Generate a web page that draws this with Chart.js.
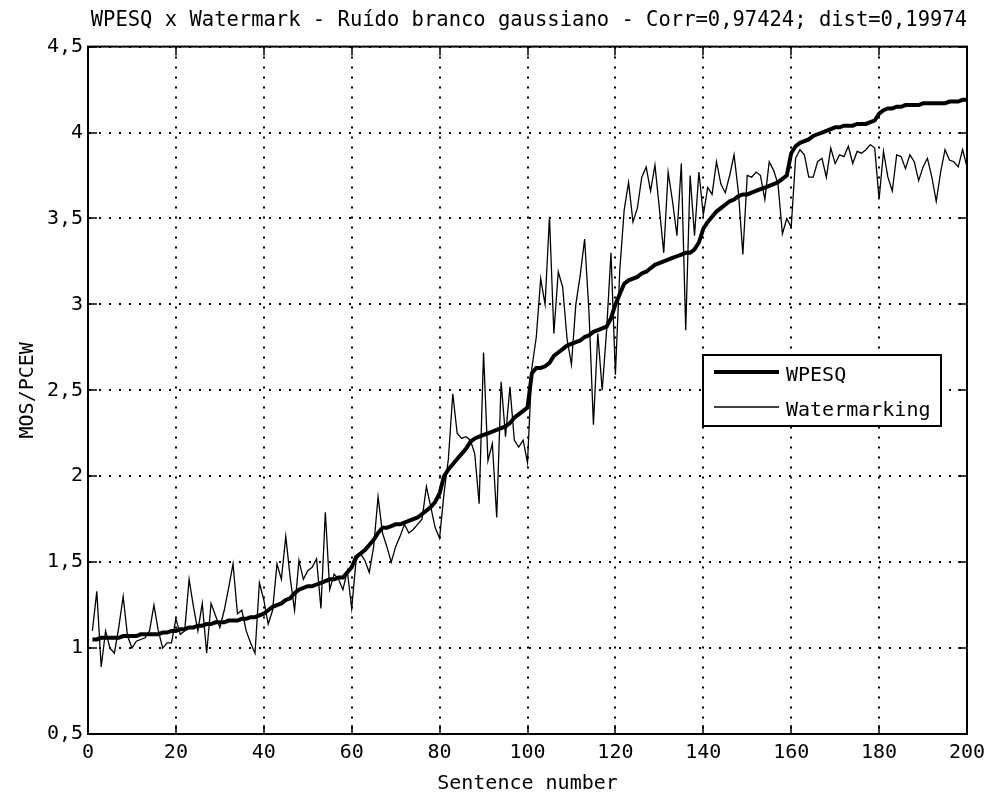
<!DOCTYPE html>
<html>
<head>
<meta charset="utf-8">
<script src="https://cdn.jsdelivr.net/npm/chart.js@4"></script>
<style>
  html, body { margin: 0; padding: 0; background: #fff; }
  #wrap { width: 984px; height: 796px; }
</style>
</head>
<body>
<div id="wrap"><canvas id="mosChart" width="984" height="796"></canvas></div>
<script>
// WPESQ score per sentence (sorted, sentences 1..200)
const wpesq = [
  1.05, 1.05, 1.06, 1.06, 1.06, 1.06, 1.06, 1.07, 1.07, 1.07,
  1.07, 1.08, 1.08, 1.08, 1.08, 1.08, 1.09, 1.09, 1.10, 1.10,
  1.11, 1.11, 1.12, 1.12, 1.13, 1.13, 1.14, 1.14, 1.15, 1.15,
  1.15, 1.16, 1.16, 1.16, 1.17, 1.17, 1.18, 1.18, 1.19, 1.20,
  1.22, 1.24, 1.25, 1.26, 1.28, 1.29, 1.32, 1.34, 1.35, 1.36,
  1.36, 1.37, 1.38, 1.39, 1.40, 1.40, 1.41, 1.41, 1.44, 1.47,
  1.53, 1.55, 1.57, 1.60, 1.63, 1.67, 1.70, 1.70, 1.71, 1.72,
  1.72, 1.73, 1.74, 1.75, 1.76, 1.78, 1.80, 1.82, 1.85, 1.90,
  2.00, 2.04, 2.07, 2.10, 2.13, 2.16, 2.20, 2.22, 2.23, 2.24,
  2.25, 2.26, 2.27, 2.28, 2.29, 2.31, 2.34, 2.36, 2.38, 2.40,
  2.60, 2.63, 2.63, 2.64, 2.66, 2.70, 2.72, 2.74, 2.76, 2.77,
  2.78, 2.79, 2.81, 2.82, 2.84, 2.85, 2.86, 2.87, 2.92, 3.00,
  3.06, 3.12, 3.14, 3.15, 3.16, 3.18, 3.19, 3.21, 3.23, 3.24,
  3.25, 3.26, 3.27, 3.28, 3.29, 3.30, 3.30, 3.32, 3.36, 3.44,
  3.48, 3.51, 3.54, 3.56, 3.58, 3.60, 3.61, 3.63, 3.64, 3.64,
  3.65, 3.66, 3.67, 3.68, 3.69, 3.70, 3.71, 3.73, 3.75, 3.88,
  3.92, 3.94, 3.95, 3.96, 3.98, 3.99, 4.00, 4.01, 4.02, 4.03,
  4.03, 4.04, 4.04, 4.04, 4.05, 4.05, 4.05, 4.06, 4.07, 4.11,
  4.13, 4.14, 4.14, 4.15, 4.15, 4.16, 4.16, 4.16, 4.16, 4.17,
  4.17, 4.17, 4.17, 4.17, 4.17, 4.18, 4.18, 4.18, 4.19, 4.19
];

// PCEW estimated by the watermark, same sentences
const watermarking = [
  1.10, 1.33, 0.89, 1.10, 1.00, 0.97, 1.12, 1.30, 1.07, 1.00,
  1.04, 1.05, 1.06, 1.10, 1.25, 1.10, 1.00, 1.03, 1.03, 1.17,
  1.08, 1.10, 1.40, 1.24, 1.10, 1.26, 0.97, 1.26, 1.19, 1.12,
  1.22, 1.35, 1.49, 1.20, 1.22, 1.10, 1.03, 0.97, 1.38, 1.28,
  1.14, 1.22, 1.49, 1.40, 1.65, 1.41, 1.22, 1.51, 1.40, 1.45,
  1.47, 1.52, 1.23, 1.79, 1.34, 1.43, 1.40, 1.34, 1.45, 1.23,
  1.51, 1.55, 1.51, 1.44, 1.59, 1.88, 1.67, 1.59, 1.50, 1.59,
  1.65, 1.72, 1.67, 1.69, 1.72, 1.75, 1.94, 1.82, 1.70, 1.64,
  1.90, 2.10, 2.48, 2.25, 2.22, 2.23, 2.21, 2.13, 1.84, 2.72,
  2.09, 2.19, 1.76, 2.55, 2.23, 2.52, 2.21, 2.17, 2.21, 2.08,
  2.63, 2.81, 3.15, 3.00, 3.51, 2.83, 3.19, 3.10, 2.80, 2.65,
  3.00, 3.17, 3.38, 2.95, 2.30, 2.83, 2.50, 2.85, 3.30, 2.59,
  3.20, 3.55, 3.71, 3.48, 3.56, 3.74, 3.80, 3.66, 3.81, 3.56,
  3.30, 3.77, 3.60, 3.40, 3.82, 2.85, 3.75, 3.40, 3.77, 3.52,
  3.68, 3.64, 3.83, 3.70, 3.65, 3.75, 3.87, 3.65, 3.29, 3.75,
  3.74, 3.77, 3.75, 3.61, 3.83, 3.78, 3.70, 3.41, 3.50, 3.45,
  3.85, 3.90, 3.87, 3.74, 3.74, 3.83, 3.85, 3.74, 3.91, 3.82,
  3.87, 3.86, 3.92, 3.82, 3.89, 3.88, 3.90, 3.93, 3.91, 3.61,
  3.89, 3.74, 3.66, 3.87, 3.86, 3.79, 3.87, 3.83, 3.72, 3.80,
  3.85, 3.74, 3.60, 3.77, 3.90, 3.84, 3.83, 3.80, 3.90, 3.80
];

const xTicks = [0, 20, 40, 60, 80, 100, 120, 140, 160, 180, 200];
const yTicks = [0.5, 1, 1.5, 2, 2.5, 3, 3.5, 4, 4.5];

const FONT = "'DejaVu Sans Mono', monospace";

const toPoints = arr => arr.map((v, i) => ({ x: i + 1, y: v }));

// box round the axes, inward ticks on all four sides, legend
const matlabAxes = {
  id: 'matlabAxes',
  afterDraw(chart) {
    const { ctx, chartArea: a, scales: { x, y } } = chart;
    const len = 9;
    ctx.save();
    ctx.strokeStyle = '#000';
    ctx.lineWidth = 2;
    ctx.strokeRect(a.left, a.top, a.right - a.left, a.bottom - a.top);

    ctx.lineWidth = 1.5;
    ctx.beginPath();
    xTicks.forEach(v => {
      const px = Math.round(x.getPixelForValue(v));
      ctx.moveTo(px, a.bottom); ctx.lineTo(px, a.bottom - len);
      ctx.moveTo(px, a.top); ctx.lineTo(px, a.top + len);
    });
    yTicks.forEach(v => {
      const py = Math.round(y.getPixelForValue(v));
      ctx.moveTo(a.left, py); ctx.lineTo(a.left + len, py);
      ctx.moveTo(a.right, py); ctx.lineTo(a.right - len, py);
    });
    ctx.stroke();

    // legend
    const box = { x: 703, y: 355, w: 238, h: 71 };
    ctx.fillStyle = '#fff';
    ctx.fillRect(box.x, box.y, box.w, box.h);
    ctx.lineWidth = 2;
    ctx.strokeRect(box.x, box.y, box.w, box.h);
    ctx.font = '20px ' + FONT;
    ctx.textBaseline = 'middle';
    ctx.fillStyle = '#000';
    chart.data.datasets.forEach((ds, i) => {
      const ly = box.y + 17 + i * 35;
      ctx.lineWidth = ds.borderWidth;
      ctx.beginPath();
      ctx.moveTo(box.x + 11, ly);
      ctx.lineTo(box.x + 76, ly);
      ctx.stroke();
      ctx.fillText(ds.label, box.x + 83, ly + 4);
    });
    ctx.restore();
  }
};

new Chart(document.getElementById('mosChart'), {
  type: 'line',
  data: {
    datasets: [{
      label: 'WPESQ',
      data: toPoints(wpesq),
      borderColor: '#000',
      borderWidth: 4,
      pointRadius: 0,
      tension: 0
    }, {
      label: 'Watermarking',
      data: toPoints(watermarking),
      borderColor: '#000',
      borderWidth: 1.3,
      pointRadius: 0,
      tension: 0
    }]
  },
  options: {
    responsive: false,
    animation: false,
    layout: { padding: { right: 17 } },
    plugins: {
      legend: { display: false },
      tooltip: { enabled: false },
      title: {
        display: true,
        align: 'end',
        text: 'WPESQ x Watermark - Ruído branco gaussiano - Corr=0,97424; dist=0,19974',
        color: '#000',
        font: { family: FONT, size: 20.5, weight: 'normal' },
        padding: { top: 8, bottom: 14 }
      }
    },
    scales: {
      x: {
        type: 'linear',
        min: 0,
        max: 200,
        afterBuildTicks: s => { s.ticks = xTicks.map(v => ({ value: v })); },
        afterFit: s => { s.height = 62; s.paddingLeft = 0; s.paddingRight = 0; },
        grid: { color: '#000', lineWidth: 2, drawTicks: false },
        border: { display: true, color: '#000', width: 2, dash: [2, 8] },
        ticks: { color: '#000', padding: 7, maxRotation: 0, font: { family: FONT, size: 20 } },
        title: {
          display: true,
          text: 'Sentence number',
          color: '#000',
          font: { family: FONT, size: 20 },
          padding: 0
        }
      },
      y: {
        min: 0.5,
        max: 4.5,
        afterBuildTicks: s => { s.ticks = yTicks.map(v => ({ value: v })); },
        afterFit: s => { s.width = 88; },
        grid: { color: '#000', lineWidth: 2, drawTicks: false },
        border: { display: true, color: '#000', width: 2, dash: [2, 8] },
        ticks: {
          color: '#000',
          padding: 5,
          font: { family: FONT, size: 20 },
          callback: v => String(v).replace('.', ',')
        },
        title: {
          display: true,
          text: 'MOS/PCEW',
          color: '#000',
          font: { family: FONT, size: 20 },
          padding: { top: 16 }
        }
      }
    }
  },
  plugins: [matlabAxes]
});
</script>
</body>
</html>
